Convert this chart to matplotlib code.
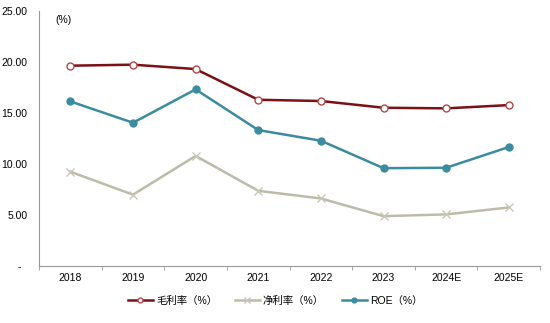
import numpy as np
import matplotlib.pyplot as plt

plt.rcParams['font.family'] = ['Liberation Sans', 'Noto Sans CJK SC', 'DejaVu Sans']

years = ['2018', '2019', '2020', '2021', '2022', '2023', '2024E', '2025E']
gross_margin = [19.64, 19.74, 19.31, 16.30, 16.18, 15.52, 15.46, 15.78]
net_margin = [9.25, 7.00, 10.80, 7.38, 6.63, 4.90, 5.07, 5.75]
roe = [16.14, 14.05, 17.32, 13.33, 12.29, 9.60, 9.64, 11.67]

yticks = [0, 5, 10, 15, 20, 25]
ytick_labels = ['-  ', '5.00', '10.00', '15.00', '20.00', '25.00']

fig = plt.figure(figsize=(5.5, 3.23), dpi=100)
ax = fig.add_axes([0.071, 0.176, 0.911, 0.790])

x = np.arange(len(years))
ax.plot(x, gross_margin, color='#7B1114', lw=1.8, marker='o', ms=5,
        mfc='white', mec='#B5474B', mew=1.0, label='毛利率（%）')
ax.plot(x, net_margin, color='#BDBCAA', lw=1.8, marker='x', ms=6,
        mec='#C8C7B8', mew=1.0, label='净利率（%）')
ax.plot(x, roe, color='#3A8C9E', lw=1.8, marker='o', ms=5,
        mfc='#3A8C9E', mec='#3A8C9E', label='ROE（%）')

ax.set_xlim(-0.5, len(years) - 0.5)
ax.set_ylim(0, 25)
ax.set_yticks(yticks)
ax.set_yticklabels(ytick_labels)
ax.set_xticks(x)
ax.set_xticklabels(years)
ax.set_xticks(np.arange(len(years) + 1) - 0.5, minor=True)
ax.tick_params(axis='x', which='major', length=0, pad=5, labelsize=7.5)
ax.tick_params(axis='x', which='minor', length=3, color='#999999')
ax.tick_params(axis='y', length=0, pad=8.5, labelsize=7.5)

for side in ['top', 'right']:
    ax.spines[side].set_visible(False)
for side in ['left', 'bottom']:
    ax.spines[side].set_color('#999999')

ax.text(0.032, 0.965, '(%)', transform=ax.transAxes, fontsize=7.5, va='center', ha='left')

fig.legend(loc='center', bbox_to_anchor=(0.5, 0.068), ncol=3, frameon=False,
           fontsize=7.5, handlelength=2.4, columnspacing=1.7, handletextpad=0.3,
           markerscale=0.7)

fig.savefig('out.png', dpi=100)
